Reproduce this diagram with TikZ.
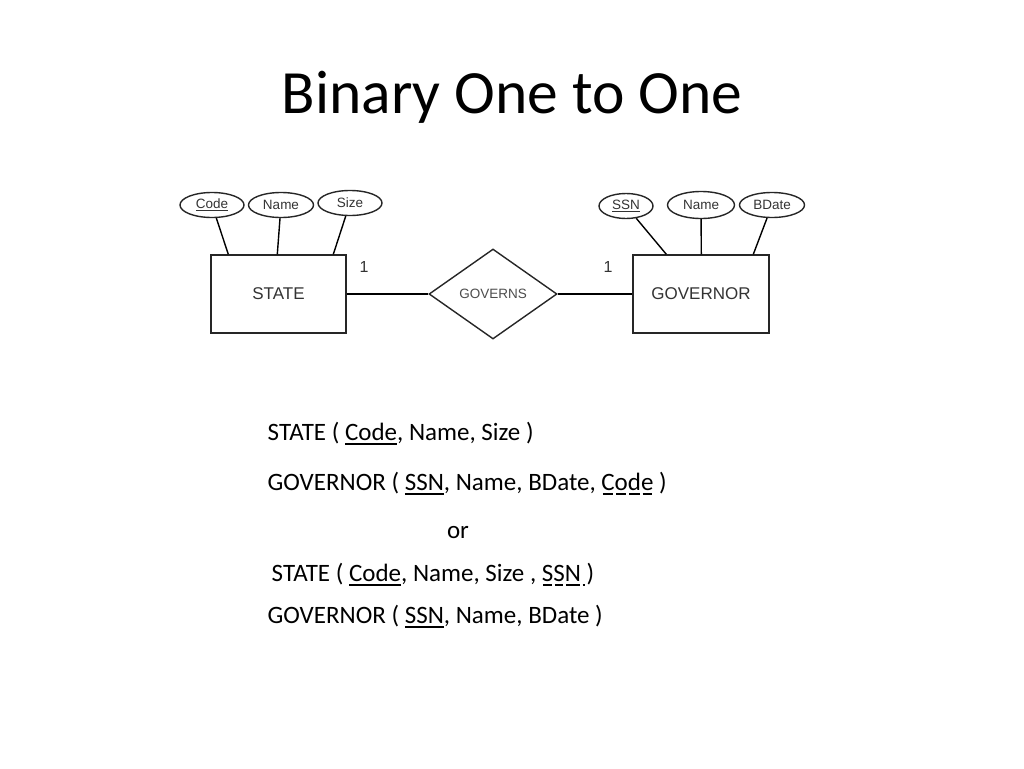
\documentclass[tikz,border=0pt]{standalone}
\usepackage{fontspec}
\setmainfont{Carlito}
\newfontfamily\erfont{Liberation Sans}
\usetikzlibrary{shapes.geometric}
% key and foreign key underlines
\newcommand\keyu[1]{\setbox0\hbox{#1}\rlap{\vrule height -2.5pt depth 4.5pt width \wd0}\box0\relax}
\newcommand\fkey[1]{\setbox0\hbox{#1}\rlap{\kern1.5pt\vrule height -2.5pt depth 4.5pt width \dimexpr\wd0-3pt\relax}\box0\relax}
\newcommand\attkey[1]{\setbox0\hbox{#1}\rlap{\vrule height -1.2pt depth 2.2pt width \wd0}\box0\relax}

\begin{document}
\begin{tikzpicture}[x=1pt,y=-1pt,line width=1.4pt]
\tikzstyle{every node}+=[inner sep=0pt]
\tikzstyle{ent}=[draw=black!85,rectangle,minimum width=135pt,minimum height=78pt,font=\erfont\fontsize{17}{20}\selectfont,text=black!80]
\tikzstyle{attr}=[draw=black!85,ellipse,minimum width=64pt,minimum height=25pt,font=\erfont\fontsize{13.5}{16}\selectfont,text=black!80]
\tikzstyle{rel}=[draw=black!85,diamond,minimum width=128pt,minimum height=90pt,font=\erfont\fontsize{13.5}{16}\selectfont,text=black!70]
\tikzstyle{card}=[font=\erfont\fontsize{16}{19}\selectfont,text=black!80]
\tikzstyle{rel txt}=[anchor=base west,font=\fontsize{25}{30}\selectfont]
\useasboundingbox (0,0) rectangle (1024,768);
\node[anchor=base,font=\fontsize{61.5}{70}\selectfont] (title) at (512,113) {Binary One to One};
% entities and relationship
\node[ent] (state) at (278.5,294) {STATE};
\node[ent,minimum width=136pt] (gov) at (701,294) {GOVERNOR};
\node[rel] (governs) at (493,294) {GOVERNS};
\draw (state) -- (governs);
\draw (governs) -- (gov);
\node[card] (c1) at (364,267) {1};
\node[card] (c2) at (608,267) {1};
% attributes
\node[attr] (code) at (212,205) {\attkey{Code}};
\node[attr,minimum width=65pt] (sname) at (281,205) {Name};
\node[attr] (size) at (350,203) {Size};
\node[attr,minimum width=54pt] (ssn) at (626,206) {\attkey{SSN}};
\node[attr,minimum width=67pt,minimum height=27pt] (gname) at (701,205) {Name};
\node[attr,minimum width=65pt] (bdate) at (772,205) {BDate};
\draw (code) -- ([xshift=18pt]state.north west);
\draw (sname) -- ([xshift=67pt]state.north west);
\draw (size) -- ([xshift=123pt]state.north west);
\draw (ssn) -- ([xshift=34pt]gov.north west);
\draw (gname) -- ([xshift=69pt]gov.north west);
\draw (bdate) -- ([xshift=121pt]gov.north west);
% relations
\node[rel txt] (r1) at (267,440) {STATE ( \keyu{Code}, Name, Size )};
\node[rel txt] (r2) at (267,490) {GOVERNOR ( \keyu{SSN}, Name, BDate, \fkey{C}\fkey{o}\fkey{d}\fkey{e} )};
\node[anchor=base,font=\fontsize{25}{30}\selectfont] (or) at (458,538) {or};
\node[rel txt] (r3) at (271,581) {STATE ( \keyu{Code}, Name, Size , \fkey{S}\fkey{S}\fkey{N}\fkey{\ })};
\node[rel txt] (r4) at (267,623) {GOVERNOR ( \keyu{SSN}, Name, BDate )};
\end{tikzpicture}
\end{document}
